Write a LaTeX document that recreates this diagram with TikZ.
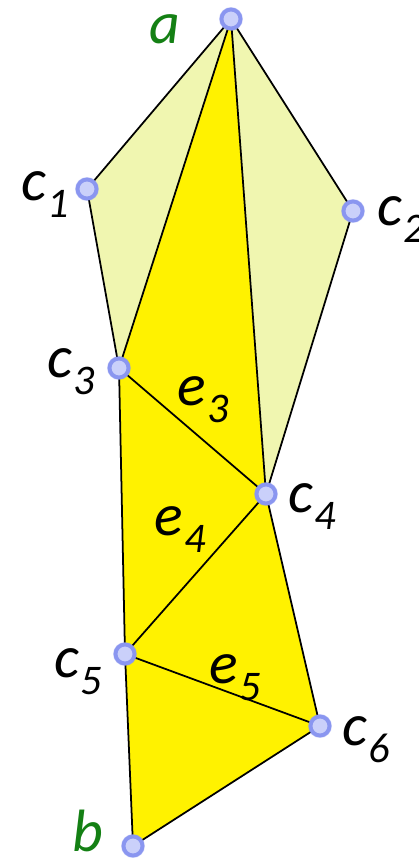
\documentclass[tikz,border=0pt]{standalone}
\usepackage{fontspec}
\setmainfont{Carlito}
\usetikzlibrary{positioning}
\definecolor{paleyellow}{RGB}{240,246,176}
\definecolor{vtxfill}{RGB}{202,208,250}
\definecolor{vtxring}{RGB}{138,150,240}
\definecolor{lblgreen}{RGB}{20,128,20}
\newcommand{\lblsub}[2]{#1\kern1pt\raisebox{-10pt}{\fontsize{24}{25}\selectfont #2}}

\begin{document}
\begin{tikzpicture}[x=0.02cm, y=-0.02cm,
  vtx/.style={circle, fill=vtxfill, draw=vtxring, line width=2.2pt, minimum size=0.38cm, inner sep=0pt},
  halo/.style={circle, fill=vtxring, opacity=0.35, minimum size=0.48cm, inner sep=0pt},
  lbl/.style={font=\fontsize{34}{36}\selectfont\itshape, inner sep=0pt, anchor=base west},
  edge/.style={black, line width=1pt}]
\useasboundingbox (0,0) rectangle (419,860);

% Points
\coordinate (a) at (231,19);
\coordinate (c1) at (87,189);
\coordinate (c2) at (353,211);
\coordinate (c3) at (119,368);
\coordinate (c4) at (266,494);
\coordinate (c5) at (125,654);
\coordinate (c6) at (320,726);
\coordinate (b) at (133,846);

% Faces
\fill[paleyellow] (a) -- (c1) -- (c3) -- cycle;
\fill[paleyellow] (a) -- (c2) -- (c4) -- cycle;
\fill[yellow] (a) -- (c3) -- (c5) -- (b) -- (c6) -- (c4) -- cycle;

% Edges
\draw[edge] (a) -- (c1) -- (c3) -- (a);
\draw[edge] (a) -- (c2) -- (c4) -- (a);
\draw[edge] (c3) -- (c4) -- (c5) -- (c3);
\draw[edge] (c4) -- (c6) -- (c5);
\draw[edge] (c5) -- (b) -- (c6);

% Vertex markers
\foreach \p in {a,c1,c2,c3,c4,c5,c6,b}{
  \node[halo] (h\p) at (\p) {};
  \node[vtx] (v\p) at (\p) {};
}

% Labels
\node[lbl, text=lblgreen] (la) at (149,43) {a};
\node[lbl, text=lblgreen] (lb) at (72,851) {b};
\node[lbl] (lc1) at (21,200) {\lblsub{c}{1}};
\node[lbl] (lc2) at (377,225) {\lblsub{c}{2}};
\node[lbl] (lc3) at (47,377) {\lblsub{c}{3}};
\node[lbl] (lc4) at (288,512) {\lblsub{c}{4}};
\node[lbl] (lc5) at (54,677) {\lblsub{c}{5}};
\node[lbl] (lc6) at (342,745) {\lblsub{c}{6}};
\node[lbl] (le3) at (177,405) {\lblsub{e}{3}};
\node[lbl] (le4) at (154,535) {\lblsub{e}{4}};
\node[lbl] (le5) at (209,683) {\lblsub{e}{5}};
\end{tikzpicture}
\end{document}
